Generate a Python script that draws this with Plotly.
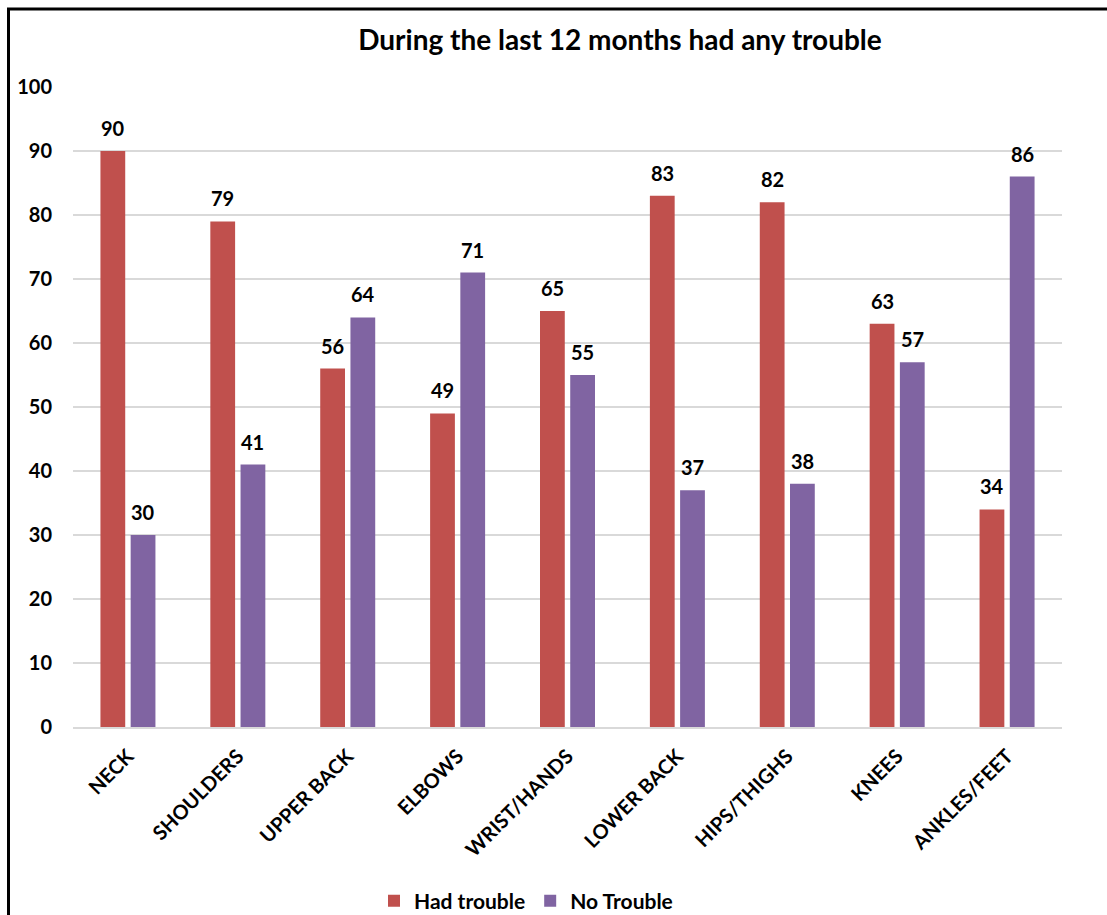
import plotly.graph_objects as go

# Body regions surveyed and share of respondents (%) per answer
regions = ["NECK", "SHOULDERS", "UPPER BACK", "ELBOWS", "WRIST/HANDS",
           "LOWER BACK", "HIPS/THIGHS", "KNEES", "ANKLES/FEET"]
had_trouble = [90, 79, 56, 49, 65, 83, 82, 63, 34]
no_trouble = [30, 41, 64, 71, 55, 37, 38, 57, 86]
y_ticks = [0, 10, 20, 30, 40, 50, 60, 70, 80, 90, 100]

RED = "#C0504D"
PURPLE = "#8064A2"
FONT = "Lato"

W, H = 1107, 915
L, R, T, B = 73, 45, 87, 188

fig = go.Figure()
fig.add_trace(go.Bar(name="Had trouble", x=regions, y=had_trouble,
                     marker=dict(color=RED, line=dict(width=0))))
fig.add_trace(go.Bar(name="No Trouble", x=regions, y=no_trouble,
                     marker=dict(color=PURPLE, line=dict(width=0))))

# value labels above each bar
annotations = []
for series, shift in ((had_trouble, -15), (no_trouble, 15)):
    for cat, val in zip(regions, series):
        annotations.append(dict(
            x=cat, y=val, xref="x", yref="y", text=str(val),
            showarrow=False, xshift=shift, yshift=9, yanchor="bottom",
            font=dict(family=FONT, size=20, color="#000000", weight="bold")))

# frame line along the top and left edges
pw, ph = W - L - R, H - T - B
def px_x(p):
    return (p - L) / pw
def px_y(p):
    return (H - B - p) / ph

shapes = [dict(type="path", xref="paper", yref="paper",
               path=f"M {px_x(8.5)} {px_y(930)} L {px_x(8.5)} {px_y(9)} L {px_x(1120)} {px_y(9)}",
               line=dict(color="#000000", width=3))]

fig.update_layout(
    width=W, height=H,
    margin=dict(l=L, r=R, t=T, b=B, autoexpand=False),
    paper_bgcolor="white", plot_bgcolor="white",
    barmode="group", bargap=0.45, bargroupgap=0.18,
    font=dict(family=FONT, color="#000000"),
    title=dict(text="<b>During the last 12 months had any trouble</b>",
               x=px_x(620), xref="paper", xanchor="center",
               y=1 - 40 / H, yref="container", yanchor="middle",
               font=dict(family=FONT, size=28, color="#000000")),
    xaxis=dict(showgrid=False, showline=True, linecolor="#D9D9D9", linewidth=1.5,
               tickangle=-45, ticks="outside", ticklen=8, tickcolor="rgba(0,0,0,0)",
               tickfont=dict(family=FONT, size=20, color="#000000", weight="bold")),
    yaxis=dict(range=[0, 100], tickvals=y_ticks, showgrid=True,
               gridcolor="#D9D9D9", gridwidth=1.5, zeroline=False, showline=False,
               ticks="", ticklabelstandoff=20,
               tickfont=dict(family=FONT, size=20, color="#000000", weight="bold")),
    legend=dict(orientation="h", x=px_x(526), xanchor="center",
                y=px_y(901), yanchor="middle", itemwidth=30,
                font=dict(family=FONT, size=21, color="#000000", weight="bold")),
    annotations=annotations,
    shapes=shapes,
)

fig.write_html("out.html")
